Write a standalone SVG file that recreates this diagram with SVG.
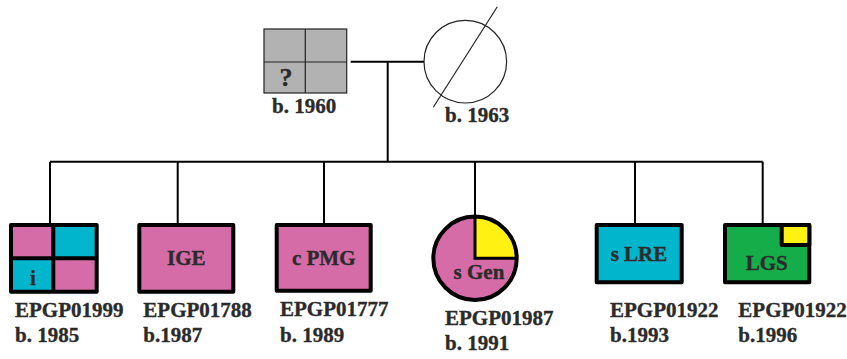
<svg xmlns="http://www.w3.org/2000/svg" width="847" height="359" viewBox="0 0 847 359">
<style>
text{font-family:"Liberation Serif","Times New Roman",serif;font-weight:bold;font-size:21px;fill:#2b2b2b;stroke:#2b2b2b;stroke-width:0.35}
.c{text-anchor:middle}
.thick{stroke:#000;stroke-width:4;stroke-linejoin:round}
.thin{stroke:#222;stroke-width:1.2}
.pink{fill:#d56ca8}
.cyan{fill:#00b5cc}
.yellow{fill:#fff212}
.green{fill:#14ad4a}
.ln{stroke:#000;stroke-width:2;fill:none}
</style>
<rect width="847" height="359" fill="#fff"/>
<g id="connectors">
<path class="ln" d="M350.7 61.7H424M387.7 61.7V161.7M50 161.7H762.7M50 161.7V225M177.7 161.7V225M324 161.7V225M475 161.7V216.7M635 161.7V225M762.7 161.7V225"/>
</g>
<g id="father">
<rect x="264" y="29" width="82.7" height="64" fill="#b2b2b2" class="thin"/>
<path class="thin" d="M305.3 29V93M264 62H346.7" fill="none"/>
<text x="286" y="86" class="c" style="font-size:26px">?</text>
<text x="272" y="113">b. 1960</text>
</g>
<g id="mother">
<circle cx="465.3" cy="61.7" r="41.3" fill="#fff" class="thin"/>
<line x1="433.3" y1="107.3" x2="497.3" y2="6.7" class="thin"/>
<text x="445" y="121.7">b. 1963</text>
</g>
<g id="child1">
<rect x="11" y="225" width="42.3" height="33.3" class="pink"/>
<rect x="53.3" y="225" width="43.4" height="33.3" class="cyan"/>
<rect x="11" y="258.3" width="42.3" height="33.4" class="cyan"/>
<rect x="53.3" y="258.3" width="43.4" height="33.4" class="pink"/>
<path class="thick" d="M53.3 225V291.7M11 258.3H96.7" fill="none"/>
<rect x="11" y="225" width="85.7" height="66.7" fill="none" class="thick"/>
<text x="33" y="285" class="c">i</text>
<text x="15" y="316.7">EPGP01999</text>
<text x="15" y="341.7">b. 1985</text>
</g>
<g id="child2">
<rect x="139.3" y="225" width="94" height="66.7" class="pink thick"/>
<text x="186.3" y="265" class="c">IGE</text>
<text x="143.3" y="316.7">EPGP01788</text>
<text x="143.3" y="341.7">b.1987</text>
</g>
<g id="child3">
<rect x="276.7" y="225" width="94" height="65.7" class="pink thick"/>
<text x="323.7" y="265" class="c">c PMG</text>
<text x="280" y="315.7">EPGP01777</text>
<text x="280" y="341.7">b. 1989</text>
</g>
<g id="child4">
<circle cx="475" cy="258.3" r="41.7" class="pink"/>
<path d="M475 258.3V216.6A41.7 41.7 0 0 1 516.7 258.3Z" class="yellow"/>
<path d="M475 216.6V258.3H516.7" fill="none" stroke="#000" stroke-width="3"/>
<circle cx="475" cy="258.3" r="41.7" fill="none" class="thick"/>
<text x="479" y="279" class="c">s Gen</text>
<text x="445" y="325">EPGP01987</text>
<text x="445" y="350">b. 1991</text>
</g>
<g id="child5">
<rect x="596.7" y="225" width="85" height="57.3" class="cyan thick"/>
<text x="639" y="261" class="c">s LRE</text>
<text x="610" y="316.7">EPGP01922</text>
<text x="610" y="341.7">b.1993</text>
</g>
<g id="child6">
<rect x="725" y="225" width="84.3" height="57.3" class="green thick"/>
<rect x="781.7" y="225" width="27.6" height="20" class="yellow thick"/>
<text x="766.7" y="270" class="c">LGS</text>
<text x="738.3" y="316.7">EPGP01922</text>
<text x="738.3" y="341.7">b.1996</text>
</g>
</svg>
